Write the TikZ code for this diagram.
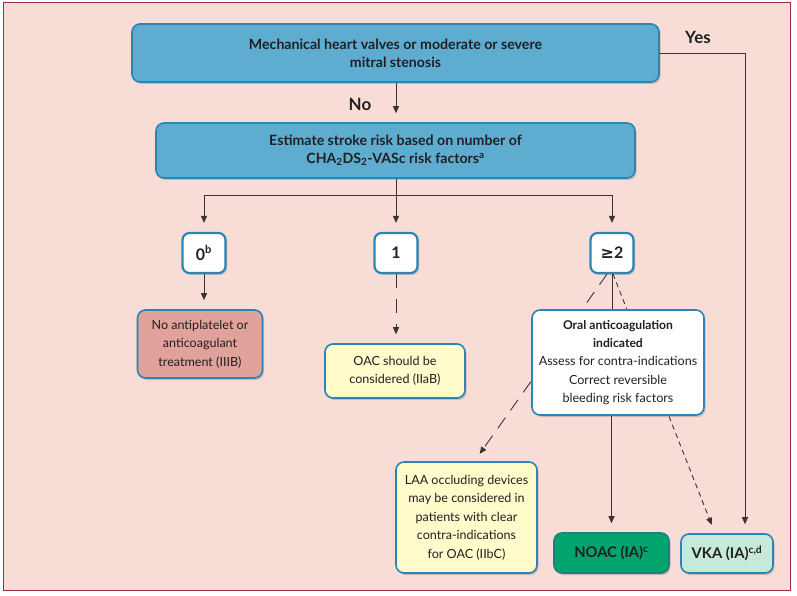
\documentclass[tikz,border=0pt]{standalone}
\usepackage{fontspec}
\setmainfont{Lato}
\newfontfamily\symfont{DejaVu Sans}
\usetikzlibrary{arrows.meta,shadows}
\definecolor{bgpink}{HTML}{F8DDD7}
\definecolor{framec}{HTML}{9E2A50}
\definecolor{bluefill}{HTML}{5EADD1}
\definecolor{blueedge}{HTML}{2B84B6}
\definecolor{redfill}{HTML}{E1A29B}
\definecolor{yelfill}{HTML}{FFFBCB}
\definecolor{greenfill}{HTML}{00A46C}
\definecolor{greenedge}{HTML}{1B7F86}
\definecolor{mintfill}{HTML}{C6E9D9}
\definecolor{ink}{HTML}{231F20}
\definecolor{linec}{HTML}{3A3334}
\begin{document}
\begin{tikzpicture}[x=1bp,y=-1bp,
  font=\fontsize{12.6}{18.5}\selectfont,
  box/.style={draw=blueedge, line width=1.6bp, rounded corners=8bp, align=center,
    text=ink, inner sep=0pt,
    drop shadow={shadow xshift=1.5bp, shadow yshift=-2bp, opacity=0.3, fill=black!60}},
  bigbox/.style={box, fill=bluefill, font=\fontsize{14.2}{18}\selectfont\bfseries},
  smallbox/.style={box, fill=white, line width=2.2bp, rounded corners=7bp,
    minimum width=43bp, minimum height=40bp, font=\fontsize{16}{18}\selectfont\bfseries},
  endbox/.style={box, font=\fontsize{14.8}{17}\selectfont\bfseries},
  lbl/.style={font=\fontsize{17}{19}\selectfont\bfseries, text=ink},
  ln/.style={draw=linec, line width=0.9bp},
  arr/.style={ln, -{Triangle[length=7bp,width=6bp]}, shorten >=9bp},
]
\useasboundingbox (0,0) rectangle (797,596);
\fill[white] (0,0) rectangle (797,596);
\draw[draw=framec, fill=bgpink, line width=1bp] (3,3) rectangle (790,590);

\node[bigbox, minimum width=527bp, minimum height=58bp] (b1) at (395.5,53)
  {Mechanical heart valves or moderate or severe\\mitral stenosis};
\node[bigbox, minimum width=479bp, minimum height=55bp] (b2) at (395.5,150.5)
  {Estimate stroke risk based on number of\\CHA\textsubscript{2}DS\textsubscript{2}-VASc risk factors\textsuperscript{a}};

\node[lbl] (yes) at (698,37) {Yes};
\node[lbl] (no) at (360,104) {No};

\node[smallbox] (s0) at (204,253) {0\textsuperscript{b}};
\node[smallbox] (s1) at (396,253) {1};
\node[smallbox] (s2) at (612,253) {{\symfont ≥}2};

\node[box, fill=redfill, minimum width=125bp, minimum height=68bp] (red) at (200,344)
  {No antiplatelet or\\anticoagulant\\treatment (IIIB)};
\node[box, fill=yelfill, minimum width=140bp, minimum height=54bp] (y1) at (395,371)
  {OAC should be\\considered (IIaB)};
\node[box, fill=yelfill, minimum width=141bp, minimum height=111bp] (laa) at (466.5,517.5)
  {LAA occluding devices\\may be considered in\\patients with clear\\contra-indications\\for OAC (IIbC)};
\node[endbox, fill=greenfill, draw=greenedge, minimum width=115bp, minimum height=40bp]
  (noac) at (611.5,553) {NOAC (IA)\textsuperscript{c}};
\node[endbox, fill=mintfill, minimum width=92bp, minimum height=39bp]
  (vka) at (727,553.5) {VKA (IA)\textsuperscript{c,d}};

% dashed diagonals (behind OAC box)
\draw[arr, dash pattern=on 13bp off 9bp] ([xshift=-5bp]s2.south) -- ([xshift=8bp]laa.north);
\draw[arr, dash pattern=on 5bp off 4bp] ([xshift=1bp]s2.south) -- ([xshift=-12bp]vka.north);

\node[box, fill=white, minimum width=172bp, minimum height=105bp] (oac) at (618,362.5)
  {{\bfseries\fontsize{12.2}{18.5}\selectfont Oral anticoagulation}\\{\bfseries\fontsize{12.2}{18.5}\selectfont indicated}\\Assess for contra-indications\\Correct reversible\\bleeding risk factors};

% connectors
\coordinate (split) at (396,195);
\coordinate (yc) at (745,53);
\draw[arr] (b1.south -| split) -- (b2.north -| split);
\draw[ln] (b2.south -| split) -- (split);
\draw[ln] (s0 |- split) -- (s2 |- split);
\draw[arr] (s0 |- split) -- (s0.north);
\draw[arr] (split) -- (s1.north);
\draw[arr] (s2 |- split) -- (s2.north);
\draw[arr] (s0.south) -- (s0.south |- red.north);
\draw[arr, dash pattern=on 14bp off 11bp] (s1.south) -- (s1.south |- y1.north);
\draw[ln] (s2.south) -- (s2.south |- oac.north);
\draw[arr] (oac.south -| noac) -- (noac.north);
\draw[arr] (b1.east) -- (yc) -- (yc |- vka.north);
\end{tikzpicture}
\end{document}
